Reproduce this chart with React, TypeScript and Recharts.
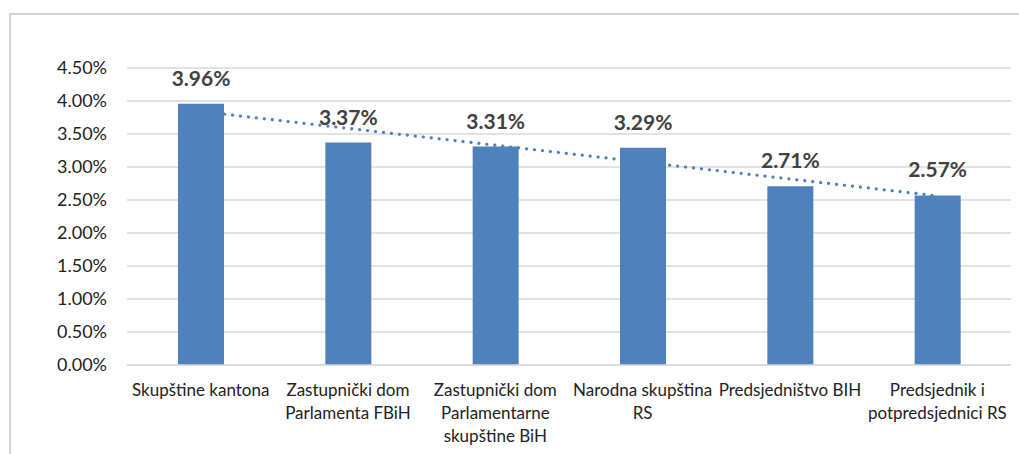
import React from "react";
import {
  ComposedChart,
  Bar,
  Line,
  XAxis,
  YAxis,
  CartesianGrid,
  LabelList,
} from "recharts";

const categories: string[] = [
  "Skupštine kantona",
  "Zastupnički dom\nParlamenta FBiH",
  "Zastupnički dom\nParlamentarne\nskupštine BiH",
  "Narodna skupština\nRS",
  "Predsjedništvo BIH",
  "Predsjednik i\npotpredsjednici RS",
];
const values: number[] = [3.96, 3.37, 3.31, 3.29, 2.71, 2.57];
const yTicks: number[] = [0, 0.5, 1, 1.5, 2, 2.5, 3, 3.5, 4, 4.5];

// Linear (least-squares) trendline, as in the spreadsheet chart
const n = values.length;
const xs = values.map((_, i) => i + 1);
const mx = xs.reduce((a, b) => a + b, 0) / n;
const my = values.reduce((a, b) => a + b, 0) / n;
const slope =
  xs.reduce((s, x, i) => s + (x - mx) * (values[i] - my), 0) /
  xs.reduce((s, x) => s + (x - mx) * (x - mx), 0);
const intercept = my - slope * mx;

const data = categories.map((name, i) => ({
  name,
  value: values[i],
  trend: intercept + slope * xs[i],
}));

const FONT = "Lato, 'Noto Sans', sans-serif";

const CategoryTick = (props: any) => {
  const { x, y, payload } = props;
  const lines: string[] = String(payload.value).split("\n");
  return (
    <text
      x={x}
      y={y + 23}
      textAnchor="middle"
      fontFamily={FONT}
      fontSize={17}
      fill="#222"
    >
      {lines.map((l, i) => (
        <tspan key={i} x={x} dy={i === 0 ? 0 : 23}>
          {l}
        </tspan>
      ))}
    </text>
  );
};

const ValueLabel = (props: any) => {
  const { x, y, width, value } = props;
  return (
    <text
      x={x + width / 2}
      y={y - 18}
      textAnchor="middle"
      fontFamily={FONT}
      fontSize={21}
      fontWeight="bold"
      fill="#404040"
    >
      {Number(value).toFixed(2) + "%"}
    </text>
  );
};

export default function App() {
  return (
    <div
      style={{
        position: "fixed",
        left: 0,
        top: 0,
        width: 1019,
        height: 454,
        overflow: "hidden",
        background: "#fff",
      }}
    >
      <div
        style={{
          position: "absolute",
          left: 9,
          top: 13,
          width: 1100,
          height: 600,
          border: "2px solid #d4d4d4",
        }}
      />
      <div style={{ position: "absolute", left: 0, top: 0 }}>
        <ComposedChart
          width={1019}
          height={454}
          data={data}
          margin={{ top: 68, right: 8, bottom: 0, left: 0 }}
        >
          <CartesianGrid vertical={false} stroke="#d9d9d9" strokeWidth={1.5} />
          <XAxis
            dataKey="name"
            height={89}
            axisLine={{ stroke: "#d9d9d9", strokeWidth: 1.5 }}
            tickLine={false}
            interval={0}
            tick={<CategoryTick />}
          />
          <YAxis
            width={127}
            domain={[0, 4.5]}
            ticks={yTicks}
            axisLine={false}
            tickLine={false}
            tickMargin={14}
            tickFormatter={(v: number) => v.toFixed(2) + "%"}
            tick={{ fontFamily: FONT, fontSize: 18, fill: "#222" }}
          />
          <Line
            dataKey="trend"
            stroke="#4f81bd"
            strokeWidth={3.2}
            strokeDasharray="0.1 7.9"
            strokeLinecap="round"
            dot={false}
            activeDot={false}
            isAnimationActive={false}
            zIndex={250}
          />
          <Bar
            dataKey="value"
            fill="#4f81bd"
            barSize={46}
            isAnimationActive={false}
            zIndex={300}
          >
            <LabelList dataKey="value" content={<ValueLabel />} />
          </Bar>
        </ComposedChart>
      </div>
    </div>
  );
}
